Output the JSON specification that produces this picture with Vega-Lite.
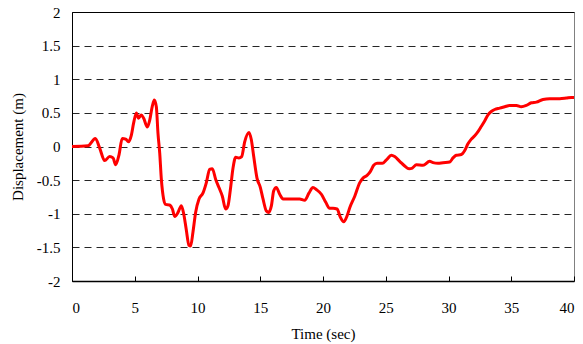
{
  "$schema": "https://vega.github.io/schema/vega-lite/v6.json",
  "width": 502,
  "height": 269,
  "autosize": {"type": "none"},
  "padding": {"left": 72, "top": 12, "right": 9, "bottom": 63},
  "background": "white",
  "config": {
    "view": {"stroke": "#808080", "strokeWidth": 1},
    "font": "Liberation Serif",
    "axis": {"labelFont": "Liberation Serif", "titleFont": "Liberation Serif", "labelFontSize": 15, "titleFontSize": 15, "titleFontWeight": "normal", "labelColor": "#000", "titleColor": "#000", "domainColor": "#000", "tickColor": "#000"}
  },
  "data": {"values": [
    {"t": 0, "v": 0}, {"t": 1.27, "v": 0.01}, {"t": 1.86, "v": 0.12}, {"t": 2.2, "v": -0.02}, {"t": 2.6, "v": -0.21},
    {"t": 3.0, "v": -0.15}, {"t": 3.27, "v": -0.17}, {"t": 3.48, "v": -0.27}, {"t": 3.75, "v": -0.12}, {"t": 4.0, "v": 0.12},
    {"t": 4.28, "v": 0.11}, {"t": 4.5, "v": 0.07}, {"t": 4.73, "v": 0.17}, {"t": 4.9, "v": 0.34}, {"t": 5.13, "v": 0.5},
    {"t": 5.3, "v": 0.42}, {"t": 5.52, "v": 0.47}, {"t": 5.71, "v": 0.42}, {"t": 6.0, "v": 0.29}, {"t": 6.19, "v": 0.39},
    {"t": 6.4, "v": 0.6}, {"t": 6.56, "v": 0.69}, {"t": 6.72, "v": 0.59}, {"t": 6.85, "v": 0.2}, {"t": 6.99, "v": -0.1},
    {"t": 7.12, "v": -0.49}, {"t": 7.3, "v": -0.78}, {"t": 7.46, "v": -0.86}, {"t": 7.78, "v": -0.87}, {"t": 8.0, "v": -0.93},
    {"t": 8.18, "v": -1.04}, {"t": 8.45, "v": -0.98}, {"t": 8.71, "v": -0.88}, {"t": 8.9, "v": -1.0}, {"t": 9.1, "v": -1.23},
    {"t": 9.32, "v": -1.47}, {"t": 9.45, "v": -1.48}, {"t": 9.64, "v": -1.27}, {"t": 9.85, "v": -0.98}, {"t": 10.12, "v": -0.78},
    {"t": 10.44, "v": -0.69}, {"t": 10.7, "v": -0.54}, {"t": 10.97, "v": -0.34}, {"t": 11.18, "v": -0.33}, {"t": 11.45, "v": -0.49},
    {"t": 11.71, "v": -0.61}, {"t": 11.98, "v": -0.74}, {"t": 12.24, "v": -0.93}, {"t": 12.43, "v": -0.88}, {"t": 12.62, "v": -0.64},
    {"t": 12.83, "v": -0.32}, {"t": 13.04, "v": -0.16}, {"t": 13.3, "v": -0.17}, {"t": 13.52, "v": -0.15}, {"t": 13.76, "v": 0.07},
    {"t": 14.1, "v": 0.21}, {"t": 14.29, "v": 0.1}, {"t": 14.48, "v": -0.15}, {"t": 14.74, "v": -0.47}, {"t": 15.01, "v": -0.61},
    {"t": 15.22, "v": -0.78}, {"t": 15.49, "v": -0.96}, {"t": 15.67, "v": -0.98}, {"t": 15.89, "v": -0.88}, {"t": 16.07, "v": -0.66},
    {"t": 16.28, "v": -0.61}, {"t": 16.55, "v": -0.71}, {"t": 16.82, "v": -0.78}, {"t": 17.21, "v": -0.78}, {"t": 18.14, "v": -0.78},
    {"t": 18.54, "v": -0.8}, {"t": 18.89, "v": -0.69}, {"t": 19.2, "v": -0.61}, {"t": 19.47, "v": -0.64}, {"t": 19.87, "v": -0.71},
    {"t": 20.22, "v": -0.83}, {"t": 20.53, "v": -0.92}, {"t": 20.8, "v": -0.92}, {"t": 21.12, "v": -0.93}, {"t": 21.38, "v": -1.05},
    {"t": 21.65, "v": -1.12}, {"t": 21.92, "v": -1.03}, {"t": 22.13, "v": -0.91}, {"t": 22.53, "v": -0.74}, {"t": 22.92, "v": -0.54},
    {"t": 23.19, "v": -0.47}, {"t": 23.51, "v": -0.43}, {"t": 23.78, "v": -0.37}, {"t": 24.04, "v": -0.28}, {"t": 24.31, "v": -0.25},
    {"t": 24.73, "v": -0.25}, {"t": 25.05, "v": -0.2}, {"t": 25.45, "v": -0.13}, {"t": 25.71, "v": -0.15}, {"t": 26.11, "v": -0.22},
    {"t": 26.51, "v": -0.29}, {"t": 26.86, "v": -0.33}, {"t": 27.12, "v": -0.32}, {"t": 27.44, "v": -0.27}, {"t": 27.97, "v": -0.28},
    {"t": 28.5, "v": -0.22}, {"t": 28.77, "v": -0.24}, {"t": 29.16, "v": -0.25}, {"t": 29.56, "v": -0.24}, {"t": 30.09, "v": -0.23},
    {"t": 30.36, "v": -0.17}, {"t": 30.62, "v": -0.13}, {"t": 31.02, "v": -0.12}, {"t": 31.29, "v": -0.06}, {"t": 31.55, "v": 0.04},
    {"t": 31.82, "v": 0.11}, {"t": 32.09, "v": 0.16}, {"t": 32.35, "v": 0.22}, {"t": 32.62, "v": 0.3}, {"t": 32.88, "v": 0.38},
    {"t": 33.15, "v": 0.47}, {"t": 33.41, "v": 0.52}, {"t": 33.68, "v": 0.55}, {"t": 34.08, "v": 0.57}, {"t": 34.48, "v": 0.59},
    {"t": 34.87, "v": 0.61}, {"t": 35.41, "v": 0.61}, {"t": 35.8, "v": 0.59}, {"t": 36.2, "v": 0.61}, {"t": 36.6, "v": 0.65},
    {"t": 37.0, "v": 0.66}, {"t": 37.53, "v": 0.7}, {"t": 38.06, "v": 0.71}, {"t": 38.86, "v": 0.71}, {"t": 39.39, "v": 0.72},
    {"t": 39.79, "v": 0.73}, {"t": 40.0, "v": 0.73}
  ]},
  "layer": [
    {
      "mark": {"type": "line", "color": "#FF0000", "strokeWidth": 3, "interpolate": "monotone"},
      "encoding": {
        "x": {"field": "t", "type": "quantitative", "scale": {"domain": [0, 40], "nice": false},
          "axis": {"title": "Time (sec)", "values": [0, 5, 10, 15, 20, 25, 30, 35, 40], "grid": false, "tickSize": -5, "labelPadding": 24, "titlePadding": 11, "domainWidth": 1.5}},
        "y": {"field": "v", "type": "quantitative", "scale": {"domain": [-2, 2], "nice": false},
          "axis": {"title": "Displacement (m)", "values": [-2, -1.5, -1, -0.5, 0, 0.5, 1, 1.5, 2], "labelExpr": "toString(datum.value)", "ticks": false, "labelPadding": 12, "titlePadding": 11,
            "grid": true, "gridColor": "#000", "gridDash": [7, 5], "gridOpacity": 0.85}}
      }
    },
    {
      "mark": {"type": "rule", "opacity": 0},
      "encoding": {
        "x2": {"datum": 0},
        "x": {"datum": 40, "type": "quantitative", "axis": {"orient": "top", "labels": false, "ticks": false, "grid": false, "title": null, "domainColor": "#000"}}
      }
    }
  ],
  "resolve": {"axis": {"x": "independent"}}
}
